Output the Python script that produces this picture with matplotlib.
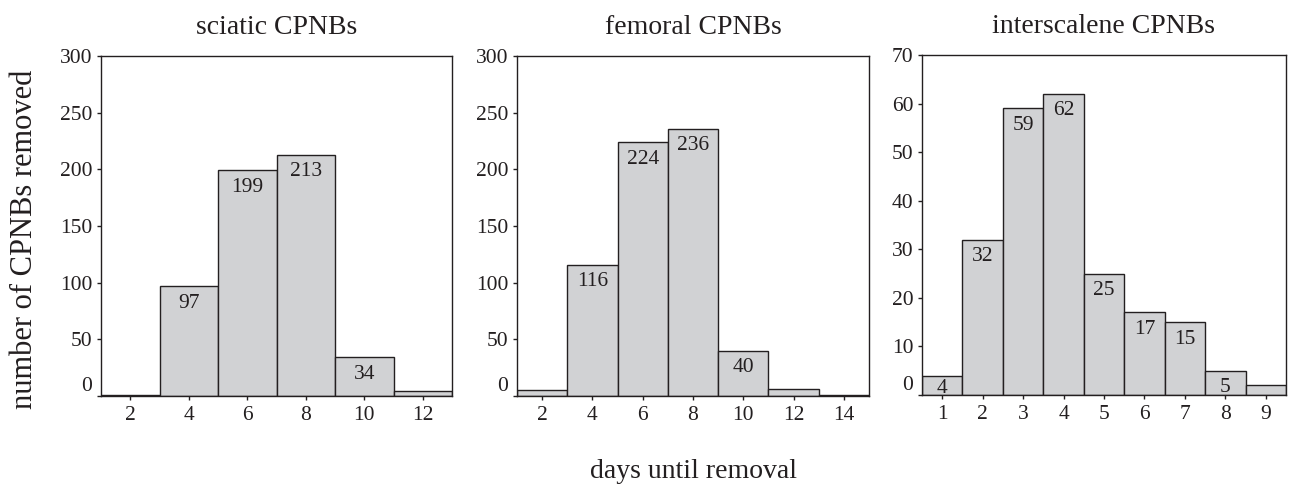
import matplotlib
matplotlib.use("Agg")
import matplotlib.pyplot as plt

plt.rcParams["font.family"] = ["Liberation Serif", "DejaVu Serif"]
plt.rcParams["font.size"] = 15.5
plt.rcParams["text.color"] = "#231f20"
plt.rcParams["xtick.color"] = "#231f20"
plt.rcParams["ytick.color"] = "#231f20"

# sciatic
sciatic_days = [2, 4, 6, 8, 10, 12]
sciatic_counts = [1, 97, 199, 213, 34, 4]
sciatic_labels = [None, "97", "199", "213", "34", None]

# femoral
femoral_days = [2, 4, 6, 8, 10, 12, 14]
femoral_counts = [5, 116, 224, 236, 40, 6, 1]
femoral_labels = [None, "116", "224", "236", "40", None, None]

# interscalene
inter_days = [1, 2, 3, 4, 5, 6, 7, 8, 9]
inter_counts = [4, 32, 59, 62, 25, 17, 15, 5, 2]
inter_labels = ["4", "32", "59", "62", "25", "17", "15", "5", None]

W, H = 1291, 490
fig = plt.figure(figsize=(W / 100, H / 100), dpi=100)


def px_axes(left, top, right, bottom):
    return fig.add_axes([left / W, 1 - bottom / H, (right - left) / W, (bottom - top) / H])


panels = [
    (px_axes(101, 56, 452, 396), "sciatic CPNBs", sciatic_days, sciatic_counts,
     sciatic_labels, 2, (1, 13), 300, 50),
    (px_axes(517, 56, 869, 396), "femoral CPNBs", femoral_days, femoral_counts,
     femoral_labels, 2, (1, 15), 300, 50),
    (px_axes(922, 55, 1286, 395), "interscalene CPNBs", inter_days, inter_counts,
     inter_labels, 1, (0.5, 9.5), 70, 10),
]

for ax, title, days, counts, labels, width, xlim, ymax, ystep in panels:
    ax.bar(days, counts, width=width, color="#d1d2d4", edgecolor="#231f20",
           linewidth=1.0, zorder=2)
    for d, c, lab in zip(days, counts, labels):
        if not lab:
            continue
        if c / ymax < 0.065:
            # too short for a label under the top edge: sit it on the base
            ax.annotate(lab, xy=(d, 0), xytext=(0, 1.5), textcoords="offset points",
                        ha="center", va="baseline", zorder=3)
        else:
            ax.annotate(lab, xy=(d, c), xytext=(0, -5.5), textcoords="offset points",
                        ha="center", va="top", zorder=3)
    ax.set_xlim(*xlim)
    ax.set_ylim(0, ymax)
    ax.set_xticks(days)
    yt = list(range(0, ymax + 1, ystep))
    ax.set_yticks(yt)
    ax.set_yticklabels([""] + [str(v) for v in yt[1:]])
    # the zero label sits a bit above its tick
    ax.annotate("0", xy=(0, 0), xycoords=("axes fraction", "data"),
                xytext=(-6.5, 7), textcoords="offset points",
                ha="right", va="center", annotation_clip=False)
    ax.tick_params(direction="out", length=3, width=1.0, pad=3)
    ax.tick_params(axis="x", pad=4.5)
    for s in ax.spines.values():
        s.set_linewidth(1.0)
        s.set_color("#231f20")
    ax.set_title(title, pad=16, fontsize=20)

fig.text(693 / W, 1 - 471 / H, "days until removal", ha="center", va="center",
         fontsize=20)
fig.text(25 / W, 1 - 239 / H, "number of CPNBs removed", ha="center", va="center",
         rotation=90, fontsize=22)

fig.savefig("out.png", dpi=100)
